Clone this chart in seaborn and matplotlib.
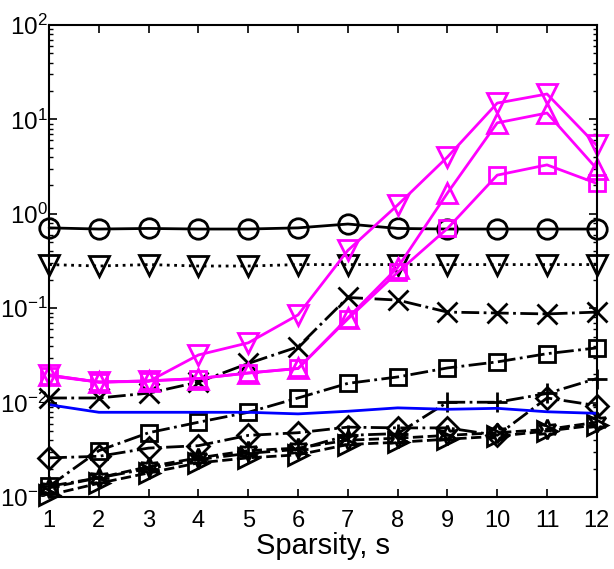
import numpy as np
import pandas as pd
import matplotlib
matplotlib.use("Agg")
import matplotlib.pyplot as plt
from matplotlib.ticker import LogLocator, NullFormatter
import seaborn as sns

# data
sparsity = list(range(1, 13))

circle_solid = [0.71, 0.69, 0.70, 0.69, 0.69, 0.71, 0.78, 0.70, 0.69, 0.69, 0.69, 0.69]
dtri_dotted = [0.29, 0.28, 0.29, 0.28, 0.28, 0.29, 0.29, 0.29, 0.29, 0.29, 0.29, 0.29]
mag_dtri = [0.0196, 0.0165, 0.0168, 0.032, 0.043, 0.085, 0.41, 1.24, 4.0, 14.9, 18.6, 5.3]
mag_utri = [0.0195, 0.0165, 0.017, 0.018, 0.0206, 0.023, 0.079, 0.27, 1.66, 9.2, 11.7, 3.0]
mag_square = [0.0192, 0.0165, 0.017, 0.018, 0.0206, 0.023, 0.077, 0.24, 0.70, 2.57, 3.3, 2.1]
x_dashdot = [0.0112, 0.0112, 0.0126, 0.0165, 0.026, 0.039, 0.13, 0.122, 0.091, 0.089, 0.087, 0.091]
sq_dashdot = [0.0013, 0.0031, 0.0048, 0.0062, 0.0079, 0.0112, 0.016, 0.0187, 0.0233, 0.027, 0.033, 0.038]
plus_dashdot = [0.0013, 0.0016, 0.0020, 0.0025, 0.0029, 0.0032, 0.0045, 0.0047, 0.0101, 0.0101, 0.0125, 0.018]
blue_line = [0.0095, 0.0079, 0.0079, 0.0079, 0.0079, 0.0076, 0.0081, 0.0088, 0.0085, 0.0087, 0.0080, 0.0077]
diamond = [0.0026, 0.0027, 0.0033, 0.0035, 0.0045, 0.0048, 0.0055, 0.0054, 0.0054, 0.0045, 0.0112, 0.0093]
hexstar = [0.00125, 0.0016, 0.0021, 0.0026, 0.0031, 0.0033, 0.0040, 0.0042, 0.0045, 0.0048, 0.0052, 0.0062]
rtri = [0.00105, 0.0014, 0.0018, 0.0023, 0.0026, 0.0028, 0.0036, 0.0038, 0.0041, 0.0044, 0.0050, 0.0058]

sns.set_style("ticks")
plt.rcParams['font.family'] = ['Liberation Sans', 'DejaVu Sans']
plt.rcParams['mathtext.fontset'] = 'custom'
plt.rcParams['mathtext.rm'] = 'Liberation Sans'
plt.rcParams['mathtext.it'] = 'Liberation Sans'
for key in ['text.color', 'axes.labelcolor', 'xtick.color', 'ytick.color', 'axes.edgecolor']:
    plt.rcParams[key] = 'black'

fig = plt.figure(figsize=(6.14, 5.69), dpi=100)
ax = fig.add_axes([0.080, 0.1265, 0.892, 0.8295])

mag = (1, 0, 1)
series = [
    (circle_solid, 'k', 'o', '-'),
    (dtri_dotted, 'k', 'v', ':'),
    (x_dashdot, 'k', 'x', '-.'),
    (sq_dashdot, 'k', 's', '-.'),
    (plus_dashdot, 'k', '+', '-.'),
    (diamond, 'k', 'D', '-.'),
    (hexstar, 'k', (6, 1, 0), '--'),
    (rtri, 'k', '>', '--'),
    (blue_line, (0, 0, 1), None, '-'),
    (mag_square, mag, 's', '-'),
    (mag_utri, mag, '^', '-'),
    (mag_dtri, mag, 'v', '-'),
]

for vals, col, mk, ls in series:
    ms = 14
    if mk == 'D':
        ms = 11
    elif mk == 's':
        ms = 12
    sns.lineplot(x=sparsity, y=vals, ax=ax, color=col, marker=mk, linestyle=ls,
                 markersize=ms, markerfacecolor='none', markeredgecolor=col,
                 markeredgewidth=2.0, linewidth=2.0, clip_on=False)

ax.set_yscale('log')
ax.set_xlim(1, 12)
ax.set_ylim(1e-3, 1e2)
ax.set_xticks(sparsity)
ax.yaxis.set_major_locator(LogLocator(base=10, numticks=10))
ax.yaxis.set_minor_locator(LogLocator(base=10, subs=np.arange(2, 10), numticks=10))
ax.yaxis.set_minor_formatter(NullFormatter())
ax.tick_params(which='both', direction='in', top=True, right=True, colors='black')
ax.tick_params(which='major', length=6, width=1.2)
ax.tick_params(which='minor', length=3, width=1.0)
ax.tick_params(axis='x', pad=9, labelsize=17)
ax.tick_params(axis='y', pad=1, labelsize=17.5)
for sp in ax.spines.values():
    sp.set_linewidth(1.5)
    sp.set_color('black')
    sp.set_visible(True)
ax.set_xlabel('Sparsity, s', fontsize=21, labelpad=0, color='black')

fig.savefig('out.png', dpi=100)
